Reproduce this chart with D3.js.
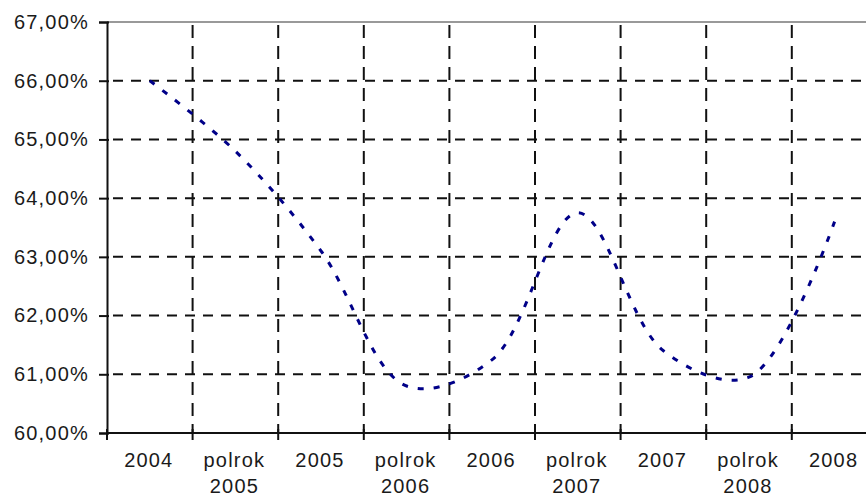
<!DOCTYPE html>
<head>
<meta charset="utf-8">
<script src="https://d3js.org/d3.v7.min.js"></script>
<style>
  body { margin: 0; background: #fff; }
  svg text { font-family: "Liberation Sans", Arial, sans-serif; font-size: 20px; letter-spacing: 1.2px; fill: #1a1a1a; }
</style>
</head>
<body>
<div id="vis"></div>
<script>
// categories on the x axis (second line after \n)
const categories = ['2004', 'polrok\n2005', '2005', 'polrok\n2006', '2006', 'polrok\n2007', '2007', 'polrok\n2008', '2008']
// percent values
const values = [66.0, 64.8, 63.1, 60.8, 61.25, 63.75, 61.4, 60.95, 63.6]
const yTicks = [60, 61, 62, 63, 64, 65, 66, 67]

const width = 866
const height = 497
const margin = { left: 107, top: 22, bottom: 64 }
const plotW = 9 * 85.6   // the plot runs past the right edge, as in the picture

const locale = d3.formatLocale({ decimal: ',', thousands: '.', grouping: [3], currency: ['', ''] })
const fmt = v => locale.format('.2f')(v) + '%'

const svg = d3.select('#vis').append('svg')
  .attr('width', width)
  .attr('height', height)

const x = d3.scaleBand()
  .domain(categories)
  .range([margin.left, margin.left + plotW])

const y = d3.scaleLinear()
  .domain([60, 67])
  .range([height - margin.bottom, margin.top])

// top border
svg.append('line')
  .attr('x1', margin.left).attr('x2', margin.left + plotW)
  .attr('y1', y(67)).attr('y2', y(67))
  .attr('stroke', '#999').attr('stroke-width', 2)

// horizontal grid
svg.append('g')
  .selectAll('line')
  .data(yTicks.filter(d => d > 60 && d < 67))
  .join('line')
  .attr('x1', margin.left).attr('x2', margin.left + plotW)
  .attr('y1', d => y(d)).attr('y2', d => y(d))
  .attr('stroke', '#111').attr('stroke-width', 2)
  .attr('stroke-dasharray', '10,8')
  .attr('stroke-dashoffset', -6)

// vertical grid at category boundaries
const bounds = categories.slice(1).map(c => x(c))
svg.append('g')
  .selectAll('line')
  .data(bounds)
  .join('line')
  .attr('x1', d => d).attr('x2', d => d)
  .attr('y1', y(67)).attr('y2', y(60))
  .attr('stroke', '#111').attr('stroke-width', 2)
  .attr('stroke-dasharray', '13,8')
  .attr('stroke-dashoffset', -3)

// y axis
const yAxis = svg.append('g')
  .attr('transform', `translate(${margin.left},0)`)
  .call(d3.axisLeft(y).tickValues(yTicks).tickFormat(fmt).tickSize(8))
yAxis.attr('font-size', null).attr('font-family', null)
yAxis.select('.domain').attr('stroke', '#111').attr('stroke-width', 2)
yAxis.selectAll('.tick line').attr('stroke', '#111').attr('stroke-width', 2).attr('x2', -8).attr('x1', 2)
yAxis.selectAll('text').attr('fill', null).attr('x', -18)

// x axis
const xg = svg.append('g')
  .attr('transform', `translate(0,${y(60)})`)
xg.append('line')
  .attr('x1', margin.left).attr('x2', margin.left + plotW)
  .attr('stroke', '#111').attr('stroke-width', 2)
xg.selectAll('.xtick')
  .data([margin.left].concat(bounds))
  .join('line')
  .attr('x1', d => d).attr('x2', d => d)
  .attr('y1', -4).attr('y2', 7)
  .attr('stroke', '#111').attr('stroke-width', 2)

const labels = xg.selectAll('.xlabel')
  .data(categories)
  .join('text')
  .attr('text-anchor', 'middle')
  .attr('x', d => x(d) + x.bandwidth() / 2 - 1)
  .attr('y', 34)
labels.selectAll('tspan')
  .data(d => d.split('\n'))
  .join('tspan')
  .attr('x', function () { return this.parentNode.getAttribute('x') })
  .attr('dy', (d, i) => i === 0 ? 0 : 26)
  .text(d => d)

// series line
const line = d3.line()
  .x((d, i) => x(categories[i]) + x.bandwidth() / 2)
  .y(d => y(d))
  .curve(d3.curveCatmullRom.alpha(0.5))

svg.append('path')
  .datum(values)
  .attr('d', line)
  .attr('fill', 'none')
  .attr('stroke', '#000088')
  .attr('stroke-width', 3)
  .attr('stroke-dasharray', '6,10')
</script>
</body>
